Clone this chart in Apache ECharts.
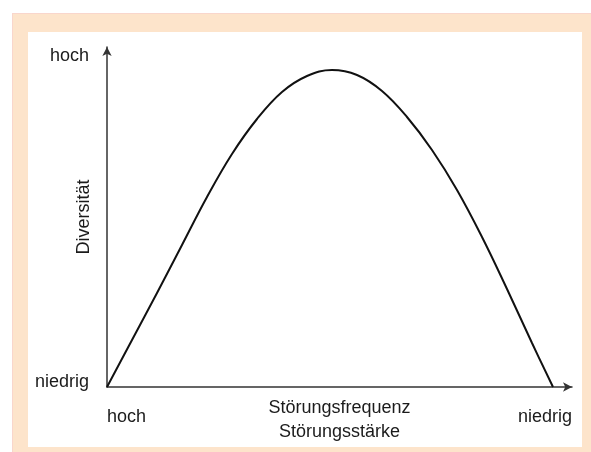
<!DOCTYPE html>
<html>
<head>
<meta charset="utf-8">
<script src="https://cdn.jsdelivr.net/npm/echarts@6/dist/echarts.min.js"></script>
<style>
    html, body { margin: 0; padding: 0; background: #fff; }
    #frame {
        position: absolute; left: 12px; top: 13px; width: 579px; height: 439px;
        background: #fde4cb; border-top: 1px solid #f9d6cc; border-left: 1px solid #f9d6cc;
        box-sizing: border-box;
    }
    #inner {
        position: absolute; left: 28px; top: 32px; width: 554px; height: 415px;
        background: #fff;
    }
    #chart { position: absolute; left: 0; top: 0; width: 591px; height: 452px; }
</style>
</head>
<body>
<div id="frame"></div>
<div id="inner"></div>
<div id="chart"></div>
<script>
var curveX = [0, 25, 50, 75, 100, 125, 150, 175, 200, 225, 250, 275, 300, 325, 350, 375, 400, 425, 446];
var curveY = [0, 47, 94, 142, 190, 233, 268, 295, 311, 317, 312, 296, 270, 237, 197, 150, 98, 44, 0];

// Achsenbeschriftungen
var xLabelValues = [0, 465];
var xLabelTexts = ['hoch', 'niedrig'];
var yLabelValues = [5, 331];
var yLabelTexts = ['niedrig', 'hoch'];
var xName = 'Störungsfrequenz\nStörungsstärke';
var yName = 'Diversität';

var font = 'Arial, "Liberation Sans", sans-serif';
var textColor = '#1b1b1b';

var data = [];
for (var i = 0; i < curveX.length; i++) {
    data.push([curveX[i], curveY[i]]);
}

var chart = echarts.init(document.getElementById('chart'));
var option = {
    animation: false,
    backgroundColor: 'transparent',
    grid: { left: 107, top: 47, width: 465, height: 340, outerBoundsMode: 'none', containLabel: false },
    xAxis: {
        type: 'value',
        min: 0,
        max: 465,
        name: xName,
        nameLocation: 'middle',
        nameGap: 9,
        nameMoveOverlap: false,
        nameTextStyle: { color: textColor, fontSize: 18, fontFamily: font, lineHeight: 24 },
        axisLine: {
            show: true,
            symbol: ['none', 'arrow'],
            symbolSize: [7, 9],
            lineStyle: { color: '#333', width: 1.5 }
        },
        axisTick: { show: false },
        splitLine: { show: false },
        axisLabel: {
            customValues: xLabelValues,
            formatter: function (v) { return xLabelTexts[xLabelValues.indexOf(v)]; },
            alignMinLabel: 'left',
            alignMaxLabel: 'right',
            margin: 21,
            color: textColor,
            fontSize: 18,
            fontFamily: font
        }
    },
    yAxis: {
        type: 'value',
        min: 0,
        max: 340,
        name: yName,
        nameLocation: 'middle',
        nameRotate: 90,
        nameGap: 14,
        nameMoveOverlap: false,
        nameTextStyle: { color: textColor, fontSize: 18, fontFamily: font },
        axisLine: {
            show: true,
            symbol: ['none', 'arrow'],
            symbolSize: [7, 9],
            lineStyle: { color: '#333', width: 1.5 }
        },
        axisTick: { show: false },
        splitLine: { show: false },
        axisLabel: {
            customValues: yLabelValues,
            formatter: function (v) { return yLabelTexts[yLabelValues.indexOf(v)]; },
            margin: 18,
            color: textColor,
            fontSize: 18,
            fontFamily: font
        }
    },
    series: [
        {
            type: 'line',
            data: data,
            smooth: 0.4,
            showSymbol: false,
            lineStyle: { color: '#111', width: 2 }
        }
    ]
};
chart.setOption(option);
</script>
</body>
</html>
